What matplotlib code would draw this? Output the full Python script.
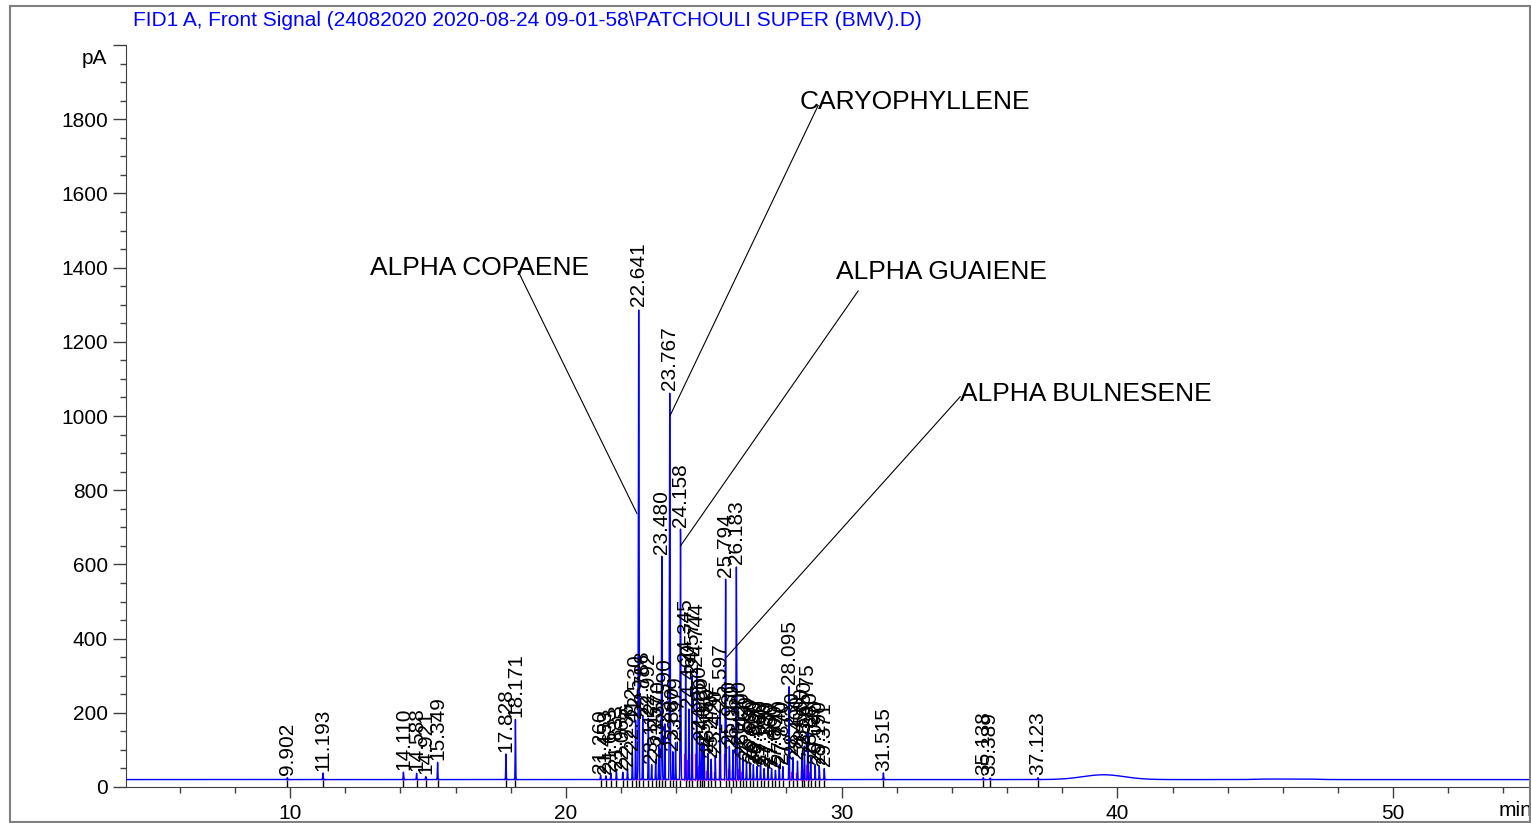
import numpy as np
import matplotlib
matplotlib.use("Agg")
import matplotlib.pyplot as plt
from matplotlib.patches import Rectangle
from matplotlib.ticker import MultipleLocator

plt.rcParams['font.family'] = ['Liberation Sans', 'DejaVu Sans']

title = "FID1 A, Front Signal (24082020 2020-08-24 09-01-58\\PATCHOULI SUPER (BMV).D)"

# retention times (min) and apex heights (pA)
peak_rt = [9.902, 11.193, 14.110, 14.588, 14.921, 15.349, 17.828, 18.171,
           21.260, 21.453, 21.633, 21.833, 22.065, 22.236, 22.412, 22.530,
           22.641, 22.788, 22.992, 23.112, 23.257, 23.370, 23.480, 23.590,
           23.767, 23.880, 23.979, 24.158, 24.345, 24.460, 24.577, 24.744,
           24.850, 24.930, 25.012, 25.150, 25.270, 25.420, 25.597, 25.794,
           25.930, 26.060, 26.183, 26.300, 26.420, 26.550, 26.680, 26.800,
           26.930, 27.060, 27.190, 27.330, 27.460, 27.600, 27.740, 27.870,
           28.095, 28.230, 28.400, 28.560, 28.650, 28.775, 28.880, 29.040,
           29.190, 29.371, 31.515, 35.138, 35.389, 37.123]
peak_height = [25, 38, 40, 37, 28, 67, 89, 183,
               32, 30, 38, 45, 40, 50, 95, 180,
               1290, 190, 185, 60, 75, 110, 622, 170,
               1065, 95, 120, 695, 330, 210, 300, 320,
               150, 120, 110, 90, 75, 85, 210, 560,
               110, 100, 595, 110, 80, 70, 65, 60,
               55, 60, 50, 55, 50, 45, 60, 55,
               272, 80, 70, 90, 110, 155, 80, 60,
               55, 50, 38, 25, 24, 25]
peak_labels = ["%.3f" % rt for rt in peak_rt]

# broad bumps in the baseline (centre, sigma, rise in pA)
bump_center = [39.5, 45.6, 46.8]
bump_sigma = [0.75, 0.5, 0.4]
bump_rise = [13, 1.5, 1.5]

baseline = 20

# named compounds: label position, line start, line end
compounds = ["ALPHA COPAENE", "CARYOPHYLLENE", "ALPHA GUAIENE", "ALPHA BULNESENE"]
comp_text_x = [12.90, 28.49, 29.80, 34.30]
comp_text_y = [1399, 1846, 1388, 1060]
comp_line_x0 = [18.27, 29.15, 30.60, 34.30]
comp_line_y0 = [1390, 1837, 1337, 1052]
comp_line_x1 = [22.58, 23.78, 24.158, 25.83]
comp_line_y1 = [737, 1001, 650, 350]

# build the trace from the peak table
t = np.arange(4.0, 55.0, 0.002)
signal = np.full_like(t, baseline, dtype=float)
for rt, h in zip(peak_rt, peak_height):
    sig = 0.012 if h > 400 else 0.009
    signal += (h - baseline) * np.exp(-0.5 * ((t - rt) / sig) ** 2)
for c, s, r in zip(bump_center, bump_sigma, bump_rise):
    signal += r * np.exp(-0.5 * ((t - c) / s) ** 2)

fig = plt.figure(figsize=(15.31, 8.23), dpi=100)
ax = fig.add_axes([126 / 1531, 36 / 823, 1405 / 1531, 742 / 823])

ax.plot(t, signal, color='#0000ff', lw=1.0, zorder=3)

# integration baselines (magenta) and retention time marks
for rt, h in zip(peak_rt, peak_height):
    ax.plot([rt - 0.06, rt + 0.06], [baseline + 1, baseline + 1], color='#ff00ff', lw=1.0, zorder=2)
    if 24.3 < rt < 26.5 or 28.2 < rt < 29.0:
        ax.plot([rt - 0.05, rt - 0.05], [baseline, min(baseline + 0.25 * h, 90)],
                color='#ff00ff', lw=1.0, zorder=2)
ax.vlines(peak_rt, 0, baseline, color='black', lw=1.0, zorder=4)

for rt, h, lab in zip(peak_rt, peak_height, peak_labels):
    ax.text(rt, h + 6, lab, rotation=90, ha='center', va='bottom', fontsize=15, zorder=5)

for name, tx, ty, x0, y0, x1, y1 in zip(compounds, comp_text_x, comp_text_y,
                                        comp_line_x0, comp_line_y0, comp_line_x1, comp_line_y1):
    ax.plot([x0, x1], [y0, y1], color='black', lw=0.8, zorder=6)
    ax.text(tx, ty, name, ha='left', va='center', fontsize=19, zorder=7)

ax.set_xlim(4.05, 55.0)
ax.set_ylim(0, 2000)
for side in ['top', 'right']:
    ax.spines[side].set_visible(False)
ax.spines['left'].set_color('#404040')
ax.spines['bottom'].set_color('#404040')

ax.set_xticks([10, 20, 30, 40, 50])
ax.xaxis.set_minor_locator(MultipleLocator(2))
ax.set_yticks(np.arange(0, 2001, 200))
ax.set_yticklabels([str(v) for v in range(0, 2000, 200)] + [''])
ax.yaxis.set_minor_locator(MultipleLocator(50))
ax.tick_params(axis='both', which='major', labelsize=15, color='#404040', width=1)
ax.tick_params(axis='y', which='major', length=9.5, pad=3.5)
ax.tick_params(axis='x', which='major', length=8, pad=4)
ax.tick_params(axis='both', which='minor', length=4.3, color='#404040', width=1)
ax.text(3.35, 1964, 'pA', ha='right', va='center', fontsize=15)
ax.text(55.05, -38, 'min', ha='right', va='top', fontsize=15, clip_on=False)

fig.text(133 / 1531, 1 - 20 / 823, title, color='#0000ff', fontsize=15, ha='left', va='center')

fig.add_artist(Rectangle((10 / 1531, 1 / 823), 1520 / 1531, 816 / 823, transform=fig.transFigure,
                         fill=False, edgecolor='#808080', lw=1.5))

fig.savefig('out.png', dpi=100)
